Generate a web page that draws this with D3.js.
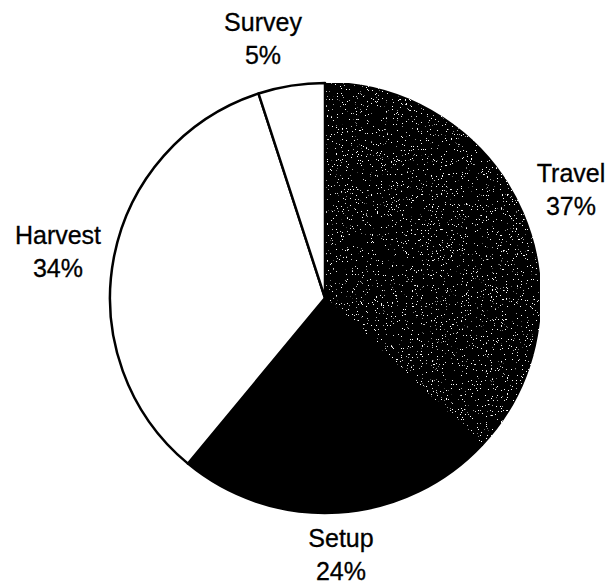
<!DOCTYPE html>
<html>
<head>
<meta charset="utf-8">
<script src="https://cdn.jsdelivr.net/npm/d3@7"></script>
<style>
  body { margin: 0; background: #fff; }
  text { font-family: "Liberation Sans", Arial, sans-serif; font-size: 25px; fill: #000; stroke: #000; stroke-width: 0.3px; }
</style>
</head>
<body>
<svg id="chart" width="608" height="584"></svg>
<script>
// shares of time, clockwise from 12 o'clock
var categories = ["Travel", "Setup", "Harvest", "Survey"]
var shares = [37, 24, 34, 5]
var fills = ["speckle", "#000", "#fff", "#fff"]
// label anchor points (text centre, first line baseline)
var labelX = [571, 341, 58, 263]
var labelY = [182, 547, 244, 31]

var cx = 325, cy = 298, radius = 215

var svg = d3.select("#chart")

// speckled dark fill: black with white grain from turbulence
var defs = svg.append("defs")
var f = defs.append("filter").attr("id", "speck")
    .attr("x", 0).attr("y", 0).attr("width", 1).attr("height", 1)
f.append("feTurbulence")
    .attr("type", "fractalNoise")
    .attr("baseFrequency", 0.8)
    .attr("numOctaves", 2)
    .attr("seed", 7)
    .attr("result", "noise")
f.append("feColorMatrix")
    .attr("in", "noise")
    .attr("type", "matrix")
    .attr("values", "0 0 0 0 1  0 0 0 0 1  0 0 0 0 1  28 0 0 0 -19.4")
    .attr("result", "grain")
f.append("feComposite")
    .attr("in", "grain").attr("in2", "SourceGraphic")
    .attr("operator", "in").attr("result", "grainIn")
var merge = f.append("feMerge")
merge.append("feMergeNode").attr("in", "SourceGraphic")
merge.append("feMergeNode").attr("in", "grainIn")

var pie = d3.pie().sort(null).value((d) => d)
var arc = d3.arc().innerRadius(0).outerRadius(radius)

var arcs = pie(shares)

var g = svg.append("g").attr("transform", "translate(" + cx + "," + cy + ")")

g.selectAll("path.slice")
    .data(arcs)
    .enter()
    .append("path")
    .attr("class", "slice")
    .attr("d", arc)
    .attr("fill", (d, i) => fills[i] == "speckle" ? "#000" : fills[i])
    .attr("filter", (d, i) => fills[i] == "speckle" ? "url(#speck)" : null)
    .attr("stroke", "#000")
    .attr("stroke-width", 2.5)
    .attr("stroke-linejoin", "round")

var labels = svg.selectAll("g.label")
    .data(arcs)
    .enter()
    .append("g")
    .attr("class", "label")

labels.append("text")
    .attr("x", (d, i) => labelX[i])
    .attr("y", (d, i) => labelY[i])
    .attr("text-anchor", "middle")
    .text((d, i) => categories[i])

labels.append("text")
    .attr("x", (d, i) => labelX[i])
    .attr("y", (d, i) => labelY[i] + 33)
    .attr("text-anchor", "middle")
    .text((d) => d.data + "%")
</script>
</body>
</html>
